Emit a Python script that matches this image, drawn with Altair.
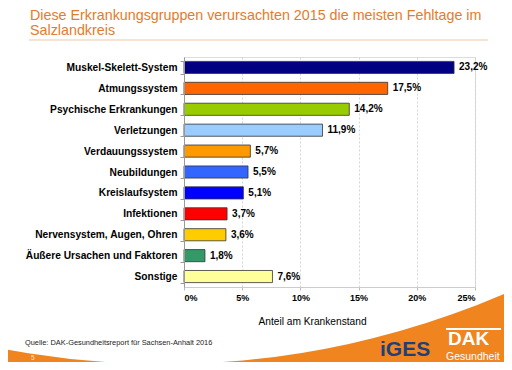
import altair as alt
import pandas as pd

categories = [
    "Muskel-Skelett-System", "Atmungssystem", "Psychische Erkrankungen",
    "Verletzungen", "Verdauungssystem", "Neubildungen", "Kreislaufsystem",
    "Infektionen", "Nervensystem, Augen, Ohren", "Äußere Ursachen und Faktoren",
    "Sonstige",
]
values = [23.2, 17.5, 14.2, 11.9, 5.7, 5.5, 5.1, 3.7, 3.6, 1.8, 7.6]
colors = ["#000080", "#FF6600", "#99CC00", "#99CCFF", "#FF9900", "#3366FF",
          "#0000FF", "#FF0000", "#FFCC00", "#339966", "#FFFF99"]
x_ticks = [0, 5, 10, 15, 20, 25]

title_line1 = "Diese Erkrankungsgruppen verursachten 2015 die meisten Fehltage im"
title_line2 = "Salzlandkreis"
source_text = "Quelle: DAK-Gesundheitsreport für Sachsen-Anhalt 2016"
x_title = "Anteil am Krankenstand"

FONT = "Liberation Sans"
W, H = 291, 230

df = pd.DataFrame({"cat": categories, "val": values, "col": colors})
one = alt.Data(values=[{}])

base = alt.Chart(df)

bars = base.mark_bar(stroke="#333333", strokeWidth=0.8).encode(
    y=alt.Y("cat:N", sort=categories,
            scale=alt.Scale(paddingInner=0.42, paddingOuter=0.21),
            axis=alt.Axis(title=None, labelFont=FONT, labelFontWeight="bold",
                          labelFontSize=10.2, labelColor="#000000",
                          labelPadding=3, tickBand="extent", tickSize=4,
                          tickColor="#999999", domainColor="#999999",
                          labelLimit=200, zindex=1)),
    x=alt.X("val:Q", scale=alt.Scale(domain=[0, 25], nice=False),
            axis=alt.Axis(values=x_ticks, labelExpr="datum.value + '%'",
                          title=x_title, titleFont=FONT, titleFontSize=10.2,
                          titleFontWeight="normal", titleColor="#000000",
                          titleX=128, titleY=34, titleAnchor=None,
                          titleAlign="center", titleBaseline="middle",
                          labelFont=FONT, labelFontWeight="bold", labelFontSize=9,
                          labelColor="#000000", labelPadding=3, tickSize=3,
                          tickColor="#BBBBBB", domainColor="#CCCCCC",
                          grid=True, gridColor="#CCCCCC", gridDash=[2, 2],
                          gridWidth=0.8)),
    color=alt.Color("col:N", scale=None, legend=None),
)

labels = base.transform_calculate(
    lab="replace(format(datum.val, '.1f'), '.', ',') + '%'"
).mark_text(align="left", baseline="middle", dx=5, font=FONT,
            fontWeight="bold", fontSize=10, color="#000000").encode(
    y=alt.Y("cat:N", sort=categories),
    x="val:Q",
    text="lab:N",
)

# decorations (positions relative to plot origin at page 184,57)
swoosh = alt.Chart(one).mark_arc(color="#F0841F").encode(
    x=alt.value(-20), y=alt.value(-553),
    theta=alt.value(2.55), theta2=alt.value(3.55),
    radius=alt.value(1050), radius2=alt.value(860),
)
title1 = alt.Chart(one).mark_text(
    align="left", baseline="alphabetic", font=FONT, fontSize=14.3,
    color="#E47B2C").encode(
    x=alt.value(-154), y=alt.value(-37), text=alt.value(title_line1))
title2 = alt.Chart(one).mark_text(
    align="left", baseline="alphabetic", font=FONT, fontSize=14.3,
    color="#E47B2C").encode(
    x=alt.value(-154), y=alt.value(-22), text=alt.value(title_line2))
title_rule = alt.Chart(one).mark_rule(color="#F0C8A4", strokeWidth=1.2).encode(
    x=alt.value(-155), x2=alt.value(304), y=alt.value(-17))
source = alt.Chart(one).mark_text(
    align="left", baseline="alphabetic", font=FONT, fontSize=7.4,
    color="#222222").encode(
    x=alt.value(-159), y=alt.value(288), text=alt.value(source_text))
iges = alt.Chart(one).mark_text(
    align="left", baseline="alphabetic", font=FONT, fontSize=21,
    fontWeight="bold", color="#1F3F7A").encode(
    x=alt.value(196), y=alt.value(299), text=alt.value("iGES"))
dak = alt.Chart(one).mark_text(
    align="left", baseline="alphabetic", font=FONT, fontSize=19,
    fontWeight="bold", color="#FFFFFF").encode(
    x=alt.value(264), y=alt.value(288), text=alt.value("DAK"))
dak_bar = alt.Chart(one).mark_rule(color="#FFFFFF", strokeWidth=2).encode(
    x=alt.value(262), x2=alt.value(317), y=alt.value(272))
gesund = alt.Chart(one).mark_text(
    align="left", baseline="alphabetic", font=FONT, fontSize=10.5,
    color="#FFFFFF").encode(
    x=alt.value(262), y=alt.value(303), text=alt.value("Gesundheit"))
page_no = alt.Chart(one).mark_text(
    align="left", baseline="alphabetic", font=FONT, fontSize=6.5,
    color="#FBE3CC").encode(
    x=alt.value(-153), y=alt.value(303), text=alt.value("5"))

chart = alt.layer(
    swoosh, bars, labels, title1, title2, title_rule, source, iges, dak,
    dak_bar, gesund, page_no,
).properties(
    width=W, height=H,
    autosize=alt.AutoSizeParams(type="none"),
    padding={"left": 176, "top": 49, "right": 29, "bottom": 75},
).configure_view(stroke=None).configure(background="#FFFFFF")

chart.save("out.html", embed_options={"renderer": "svg", "actions": False})
